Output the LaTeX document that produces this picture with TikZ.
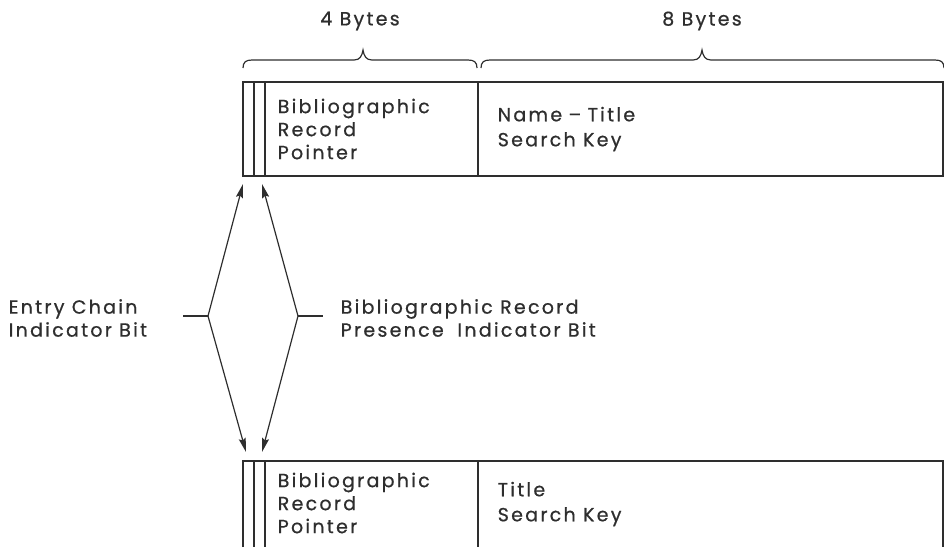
\documentclass[tikz,border=0pt]{standalone}
\usepackage{fontspec}
\setmainfont{Poppins}[LetterSpace=12, FakeBold=0.7]
\usetikzlibrary{arrows.meta}
\definecolor{ink}{HTML}{2E2E2E}
\begin{document}
\begin{tikzpicture}[x=1pt,y=-1pt,
  line width=1.5pt, draw=ink,
  lbl/.style={text=ink, font=\fontsize{19}{23}\selectfont, inner sep=0pt, anchor=west, align=left},
  brc/.style={line width=1.2pt},
  ptr/.style={-{Stealth[length=14pt,width=7pt,inset=2pt]}, line width=1.2pt},
  tick/.style={line width=1.2pt}]
\useasboundingbox (0,0) rectangle (944,547);

% record layout (upper)
\draw (243,82) rectangle (943,176);
\foreach \x in {254,265,478} \draw (\x,82) -- (\x,176);

% record layout (lower, continues below)
\draw (243,547) -- (243,461) -- (943,461) -- (943,547);
\foreach \x in {254,265,478} \draw (\x,461) -- (\x,547);

% field widths: braces with short end curls
\draw[brc] (243,68) .. controls (243,62) and (246,60) .. (252,60) -- (354,60)
  .. controls (360,60) and (362,56) .. (363,50) .. controls (364,56) and (366,60) .. (372,60)
  -- (468,60) .. controls (474,60) and (477,62) .. (477,68);
\draw[brc] (481,68) .. controls (481,62) and (484,60) .. (490,60) -- (693,60)
  .. controls (699,60) and (701,56) .. (702,50) .. controls (703,56) and (705,60) .. (711,60)
  -- (935,60) .. controls (941,60) and (944,62) .. (944,68);
\node[lbl, anchor=center] (b4) at (360,21) {4 Bytes};
\node[lbl, anchor=center] (b8) at (702,21) {8 Bytes};

% field texts
\node[lbl] (p1) at (277,129) {Bibliographic\\Record\\Pointer};
\node[lbl] (k1) at (497,129) {Name\,\,--\,\,Title\\[2pt]Search Key};
\node[lbl] (p2) at (277,503) {Bibliographic\\Record\\Pointer};
\node[lbl] (k2) at (497,504) {Title\\[2pt]Search Key};

% indicator bits
\coordinate (jL) at (208,316);
\coordinate (jR) at (298,316);
\coordinate (tL) at (183,316);
\coordinate (tR) at (323,316);
\coordinate (upL) at (243,184);
\coordinate (upR) at (262,184);
\coordinate (dnL) at (246,452);
\coordinate (dnR) at (262,452);
\draw[tick] (tL) -- (jL);
\draw[tick] (jR) -- (tR);
\draw[ptr] (jL) -- (upL);
\draw[ptr] (jL) -- (dnL);
\draw[ptr] (jR) -- (upR);
\draw[ptr] (jR) -- (dnR);

\node[lbl] (ec) at (8,318) {Entry Chain\\Indicator Bit};
\node[lbl] (bp) at (340,318) {Bibliographic Record\\Presence\,\, Indicator Bit};
\end{tikzpicture}
\end{document}
